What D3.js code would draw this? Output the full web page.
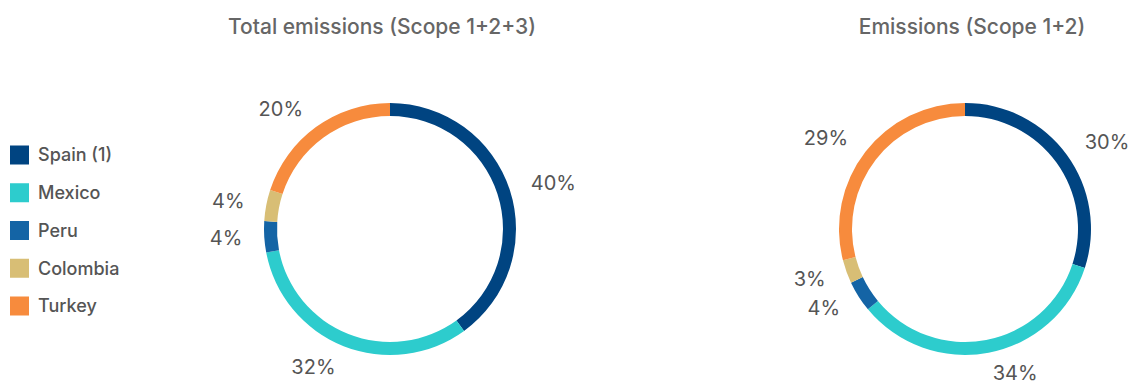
<!DOCTYPE html>
<html>
<head>
<meta charset="utf-8">
<script src="https://cdn.jsdelivr.net/npm/d3@7"></script>
<style>
  html, body { margin: 0; padding: 0; background: #fff; }
  svg { display: block; font-family: Inter, Roboto, "Noto Sans", sans-serif; }
</style>
</head>
<body>
<svg id="chart" width="1138" height="385"></svg>
<script>
// Countries and their share of emissions (%)
const countries = ["Spain (1)", "Mexico", "Peru", "Colombia", "Turkey"];
const colors = ["#004481", "#2DCCCD", "#1464A5", "#D8BE75", "#F78B3D"];
const totalScope123 = [40, 32, 4, 4, 20];
const scope12 = [30, 34, 4, 3, 29];
const chartTitles = ["Total emissions (Scope 1+2+3)", "Emissions (Scope 1+2)"];

const svg = d3.select("#chart");
const W = 1138, H = 385;

const color = d3.scaleOrdinal().domain(countries).range(colors);

// Legend
const legend = svg.append("g").attr("transform", "translate(10,0)");
const legendY = d3.scalePoint().domain(countries).range([155, 306]);
countries.forEach(c => {
  const g = legend.append("g").attr("transform", `translate(0,${legendY(c)})`);
  g.append("rect").attr("x", 0).attr("y", -9.5).attr("width", 19).attr("height", 19)
    .attr("fill", color(c));
  g.append("text").attr("x", 28).attr("y", 0).attr("dy", "0.35em")
    .attr("font-size", 18).attr("font-weight", 500).attr("fill", "#555").text(c);
});

// Donuts
const centers = d3.scalePoint().domain([0, 1]).range([390, 965]);
const titleX = [382, 972];
const cy = 229;
const outerR = 126, innerR = 113, labelR = 148;

const pie = d3.pie().sort(null).value(d => d.value);
const arc = d3.arc().innerRadius(innerR).outerRadius(outerR);

[totalScope123, scope12].forEach((values, i) => {
  const cx = centers(i);
  const data = countries.map((c, k) => ({ country: c, value: values[k] }));

  svg.append("text").attr("x", titleX[i]).attr("y", 27).attr("dy", "0.35em")
    .attr("text-anchor", "middle").attr("font-size", 21).attr("font-weight", 500)
    .attr("fill", "#666").text(chartTitles[i]);

  const g = svg.append("g").attr("transform", `translate(${cx},${cy})`);
  const arcs = pie(data);
  g.selectAll("path.slice").data(arcs).enter().append("path")
    .attr("class", "slice")
    .attr("d", arc)
    .attr("fill", d => color(d.data.country));

  // Value labels sit outside the ring at each slice's mid-angle,
  // kept inside the bottom edge of the drawing
  const maxY = H - cy - 12;
  g.selectAll("text.val").data(arcs).enter().append("text")
    .attr("class", "val")
    .each(function(d) {
      const a = (d.startAngle + d.endAngle) / 2;
      const x = Math.sin(a) * labelR;
      const y = Math.min(-Math.cos(a) * labelR, maxY);
      d3.select(this).attr("x", x).attr("y", y)
        .attr("text-anchor", a < Math.PI ? "start" : "end");
    })
    .attr("dy", "0.35em")
    .attr("font-size", 20).attr("fill", "#555")
    .text(d => d.data.value + "%");
});
</script>
</body>
</html>
